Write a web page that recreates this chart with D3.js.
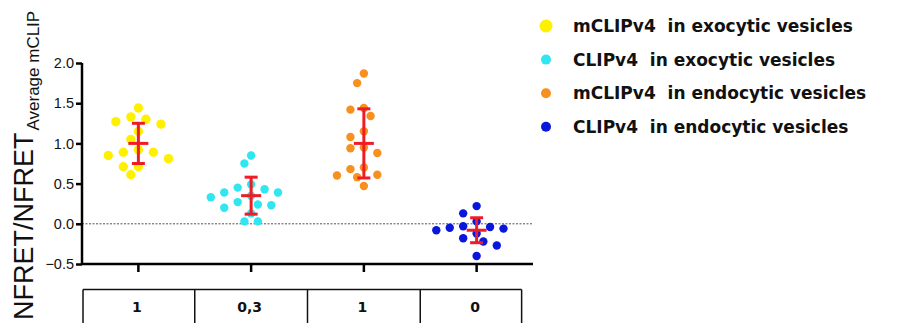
<!DOCTYPE html>
<html>
<head>
<meta charset="utf-8">
<script src="https://cdn.jsdelivr.net/npm/d3@7"></script>
<style>
  body { margin: 0; background: #fff; }
  svg { display: block; }
</style>
</head>
<body>
<div id="chart"></div>
<script>
// groups, in plot order
const groups = [
  "mCLIPv4  in exocytic vesicles",
  "CLIPv4  in exocytic vesicles",
  "mCLIPv4  in endocytic vesicles",
  "CLIPv4  in endocytic vesicles"
];
const colors = ["#fff000", "#30e6f0", "#f7901e", "#0a16dc"];

const mclipExo = [1.44, 1.33, 1.30, 1.27, 1.24, 1.15, 1.05, 0.92, 0.89, 0.89, 0.85, 0.81, 0.71, 0.71, 0.61];
const clipExo = [0.85, 0.75, 0.49, 0.45, 0.43, 0.39, 0.39, 0.35, 0.33, 0.27, 0.24, 0.23, 0.20, 0.13, 0.03, 0.03];
const mclipEndo = [1.87, 1.75, 1.44, 1.42, 1.34, 1.15, 1.08, 0.95, 0.94, 0.88, 0.70, 0.68, 0.61, 0.60, 0.58, 0.47];
const clipEndo = [0.22, 0.13, 0.03, -0.03, -0.04, -0.05, -0.06, -0.08, -0.12, -0.18, -0.22, -0.27, -0.40];

// mean +/- SD bars
const means = [1.0, 0.35, 1.0, -0.08];
const sds = [0.25, 0.23, 0.43, 0.155];

// table under the x axis
const tableLabels = ["1", "0,3", "1", "0"];
const yTicks = [-0.5, 0.0, 0.5, 1.0, 1.5, 2.0];

const values = [mclipExo, clipExo, mclipEndo, clipEndo];

const width = 906, height = 323;
const margin = { top: 63, bottom: 59, left: 82, right: 373 };
const boldFont = "DejaVu Sans, sans-serif";

const svg = d3.select("#chart").append("svg")
  .attr("width", width)
  .attr("height", height);

const x = d3.scaleBand()
  .domain(d3.range(groups.length))
  .range([margin.left, width - margin.right]);

const y = d3.scaleLinear()
  .domain([-0.5, 2.0])
  .range([height - margin.bottom, margin.top]);

const cx = i => x(i) + x.bandwidth() / 2;

// zero line
svg.append("line")
  .attr("x1", margin.left).attr("x2", width - margin.right)
  .attr("y1", y(0)).attr("y2", y(0))
  .attr("stroke", "#555")
  .attr("stroke-width", 1)
  .attr("stroke-dasharray", "2,1.5");

// simple beeswarm so dots at similar heights sit side by side
function swarm(vals, r) {
  const step = r * 1.6, minD = r * 2 + 1.5;
  const pts = vals.map(v => ({ v, py: y(v) })).sort((a, b) => a.py - b.py);
  const placed = [];
  pts.forEach(p => {
    for (let k = 0; k < 20; k++) {
      const off = k === 0 ? 0 : (k % 2 ? -1 : 1) * Math.ceil(k / 2) * step;
      const ok = placed.every(q => (off - q.off) ** 2 + (p.py - q.py) ** 2 >= minD * minD);
      if (ok) { p.off = off; break; }
    }
    placed.push(p);
  });
  return placed;
}

values.forEach((vals, i) => {
  const r = i === 0 ? 4.7 : 4.2;
  svg.append("g")
    .attr("fill", colors[i])
    .selectAll("circle")
    .data(swarm(vals, r))
    .join("circle")
      .attr("cx", d => cx(i) + d.off)
      .attr("cy", d => d.py)
      .attr("r", r);
});

// error bars
const bars = svg.append("g")
  .attr("stroke", "#ee1c24")
  .attr("stroke-width", 3)
  .selectAll("g")
  .data(means.map((m, i) => ({ m, sd: sds[i], i })))
  .join("g");

bars.append("line")
  .attr("x1", d => cx(d.i)).attr("x2", d => cx(d.i))
  .attr("y1", d => y(d.m + d.sd)).attr("y2", d => y(d.m - d.sd));
bars.append("line")
  .attr("x1", d => cx(d.i) - 6.5).attr("x2", d => cx(d.i) + 6.5)
  .attr("y1", d => y(d.m + d.sd)).attr("y2", d => y(d.m + d.sd));
bars.append("line")
  .attr("x1", d => cx(d.i) - 6.5).attr("x2", d => cx(d.i) + 6.5)
  .attr("y1", d => y(d.m - d.sd)).attr("y2", d => y(d.m - d.sd));
bars.append("line")
  .attr("x1", d => cx(d.i) - 10).attr("x2", d => cx(d.i) + 10)
  .attr("y1", d => y(d.m)).attr("y2", d => y(d.m));

// axes
const yAxis = svg.append("g")
  .attr("transform", `translate(${margin.left},0)`)
  .call(d3.axisLeft(y).tickValues(yTicks).tickFormat(d3.format(".1f")).tickSize(6).tickPadding(2));
yAxis.selectAll("path, line").attr("stroke", "#000").attr("stroke-width", 2.5);
yAxis.select(".domain").attr("d", `M0,${y(-0.5)}V${y(2.0)}`);
yAxis.selectAll("text")
  .attr("fill", "#111")
  .attr("font-family", "Liberation Sans, Arial, sans-serif")
  .attr("font-size", "14.5px");

const xAxis = svg.append("g")
  .attr("transform", `translate(0,${y(-0.5)})`)
  .call(d3.axisBottom(x).tickSize(8).tickFormat(""));
xAxis.selectAll("path, line").attr("stroke", "#000").attr("stroke-width", 2.5);
xAxis.select(".domain").attr("d", `M${margin.left},0H${width - margin.right}`);

// y axis title with subscript
const title = svg.append("text")
  .attr("transform", "translate(33,320) rotate(-90)")
  .attr("font-family", "Liberation Sans, Arial, sans-serif")
  .attr("font-size", "27px")
  .attr("fill", "#111")
  .text("NFRET/NFRET");
const tw = title.node().getComputedTextLength();
svg.append("text")
  .attr("transform", `translate(38.5,${320 - tw - 2}) rotate(-90)`)
  .attr("font-family", "Liberation Sans, Arial, sans-serif")
  .attr("font-size", "17px")
  .attr("fill", "#111")
  .text("Average mCLIP");

// table
const tTop = 289.5;
const tRight = cx(groups.length - 1) + 45;
const table = svg.append("g").attr("stroke", "#111").attr("stroke-width", 1.5);
table.append("line").attr("x1", margin.left + 1).attr("x2", tRight).attr("y1", tTop).attr("y2", tTop);
[margin.left + 1, x(1), x(2), x(3), tRight].forEach(xx => {
  table.append("line").attr("x1", xx).attr("x2", xx).attr("y1", tTop).attr("y2", height + 5);
});
svg.append("g")
  .selectAll("text")
  .data(tableLabels)
  .join("text")
    .attr("x", (d, i) => cx(i) - 1.5)
    .attr("y", 312)
    .attr("text-anchor", "middle")
    .attr("font-family", boldFont)
    .attr("font-weight", "bold")
    .attr("font-size", "14px")
    .attr("fill", "#111")
    .text(d => d);

// legend
const legend = svg.append("g")
  .selectAll("g")
  .data(groups)
  .join("g")
    .attr("transform", (d, i) => `translate(546,${26 + i * 33.6})`);
legend.append("circle")
  .attr("r", (d, i) => i === 0 ? 6.5 : 5)
  .attr("fill", (d, i) => colors[i]);
legend.append("text")
  .attr("x", 27)
  .attr("y", 6)
  .attr("font-family", boldFont)
  .attr("font-weight", "bold")
  .attr("font-size", "17px")
  .attr("fill", "#111")
  .style("white-space", "pre")
  .text(d => d);
</script>
</body>
</html>
